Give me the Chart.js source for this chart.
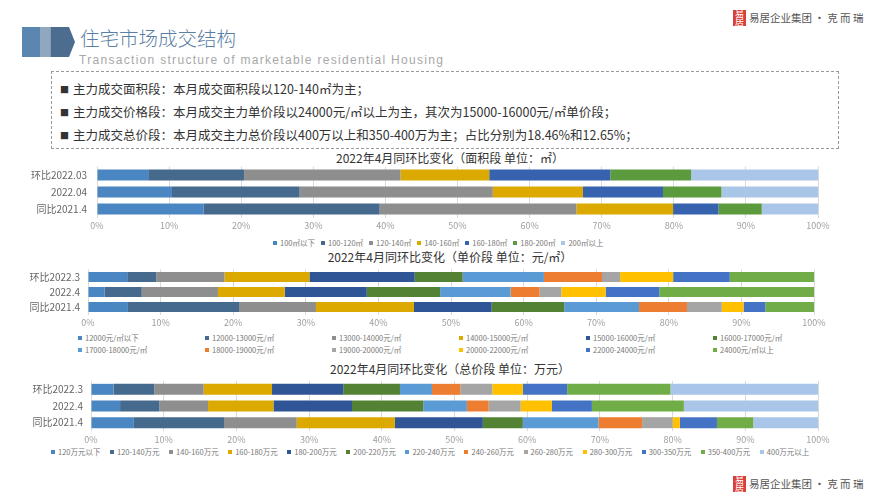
<!DOCTYPE html>
<html>
<head>
<meta charset="utf-8">
<script src="https://cdn.jsdelivr.net/npm/chart.js@4.4.1/dist/chart.umd.min.js"></script>
<style>
  body { margin: 0; background: #fff; }
  #page { position: relative; width: 894px; height: 502px; overflow: hidden; background: #fff; font-family: "Noto Sans CJK SC", sans-serif; }
  .abs { position: absolute; }
  canvas { position: absolute; left: 0; }
  .title { position: absolute; left: 0; width: 900px; text-align: center; font-size: 12px; color: #333; line-height: 14px; }
  .logo { position: absolute; left: 733px; width: 140px; height: 18px; }
  .logo .seal { position: absolute; left: 0; top: 0; width: 13px; height: 16px; background: #d8413a; color: #fff; font-size: 9px; line-height: 8px; text-align: center; }
  .logo .txt { position: absolute; left: 16px; top: 1px; font-size: 10.5px; color: #555; white-space: nowrap; line-height: 14px; }
  .notes { position: absolute; left: 51px; top: 71px; width: 786px; height: 76px; border: 1px dashed #9a9a9a; }
  .notes div { position: absolute; left: 8px; font-size: 12.5px; color: #333; white-space: nowrap; line-height: 16px; }
  .notes span { font-size: 9px; margin-right: 4px; vertical-align: 1px; }
  .lgrow { position: absolute; display: flex; white-space: nowrap; }
  .lg { font-size: 7.5px; color: #777; white-space: nowrap; line-height: 10px; }
  .lgrow .lg { position: static; }
  #unitLegend .lg { position: absolute; }
  .lg i { display: inline-block; width: 4px; height: 4px; margin-right: 3px; vertical-align: 1px; }
</style>
</head>
<body>
<div id="page">
  <svg class="abs" style="left:0;top:0" width="90" height="70">
    <rect x="22" y="27" width="18" height="30" fill="#5b86b0"/>
    <rect x="40" y="27" width="10.5" height="30" fill="#8fa8c0"/>
    <polygon points="50.5,27 69,27 75,42 69,57 50.5,57" fill="#4c6d90"/>
  </svg>
  <div class="abs" style="left:80px;top:26px;font-size:19.5px;color:#5a7ea4;line-height:24px;font-weight:300;">住宅市场成交结构</div>
  <div class="abs" style="left:79px;top:53px;font-family:'Liberation Sans',sans-serif;font-size:12px;letter-spacing:1.3px;color:#a8a8a8;line-height:14px;">Transaction structure of marketable residential Housing</div>

  <div class="logo" style="top:10px;"><div class="seal">易<br>居</div><div class="txt">易居企业集团 · 克 而 瑞</div></div>
  <div class="logo" style="top:476px;"><div class="seal">易<br>居</div><div class="txt">易居企业集团 · 克 而 瑞</div></div>

  <div class="notes">
    <div style="top:9px;"><span>■</span>主力成交面积段：本月成交面积段以120-140㎡为主；</div>
    <div style="top:32px;"><span>■</span>主力成交价格段：本月成交主力单价段以24000元/㎡以上为主，其次为15000-16000元/㎡单价段；</div>
    <div style="top:55px;"><span>■</span>主力成交总价段：本月成交主力总价段以400万以上和350-400万为主；占比分别为18.46%和12.65%；</div>
  </div>

  <div class="title" style="top:151px;">2022年4月同环比变化（面积段 单位：㎡）</div>
  <canvas id="areaChart" width="894" height="72" style="top:160px;"></canvas>
  <div id="areaLegend" class="lgrow" style="left:273px;top:238px;gap:6px;"></div>

  <div class="title" style="top:250px;">2022年4月同环比变化（单价段 单位：元/㎡）</div>
  <canvas id="unitChart" width="894" height="66" style="top:262px;"></canvas>
  <div id="unitLegend"></div>

  <div class="title" style="top:362px;">2022年4月同环比变化（总价段 单位：万元）</div>
  <canvas id="totalChart" width="894" height="72" style="top:374px;"></canvas>
  <div id="totalLegend" class="lgrow" style="left:51px;top:447px;gap:9.5px;"></div>
</div>

<script>
// rows (top to bottom)
const areaRows = ["环比2022.03", "2022.04", "同比2021.4"];
const priceRows = ["环比2022.3", "2022.4", "同比2021.4"];

// area bands, shares in % per row
const areaBands = ["100㎡以下", "100-120㎡", "120-140㎡", "140-160㎡", "160-180㎡", "180-200㎡", "200㎡以上"];
const areaMar22 = [7.1, 13.3, 21.7, 12.3, 16.8, 11.2, 17.6];
const areaApr22 = [10.4, 17.7, 26.8, 12.5, 11.1, 8.1, 13.4];
const areaApr21 = [14.8, 24.4, 27.3, 13.4, 6.3, 6.0, 7.8];
const areaColors = ["#4a87c2", "#46698e", "#8e8e8e", "#dca900", "#3763ae", "#5b9a3d", "#a9c5e8"];

// unit price bands
const unitBands = ["12000元/㎡以下", "12000-13000元/㎡", "13000-14000元/㎡", "14000-15000元/㎡", "15000-16000元/㎡", "16000-17000元/㎡",
  "17000-18000元/㎡", "18000-19000元/㎡", "19000-20000元/㎡", "20000-22000元/㎡", "22000-24000元/㎡", "24000元/㎡以上"];
const unitMar22 = [5.4, 4.0, 9.4, 11.7, 14.5, 6.6, 11.2, 8.0, 2.5, 7.3, 7.8, 11.6];
const unitApr22 = [2.3, 5.1, 10.5, 9.2, 11.3, 10.1, 9.7, 4.0, 3.0, 6.1, 7.4, 21.3];
const unitApr21 = [5.5, 15.3, 10.6, 13.5, 10.7, 10.0, 10.3, 6.6, 4.8, 3.0, 3.0, 6.7];
const unitColors = ["#4a87c2", "#46698e", "#8e8e8e", "#dca900", "#2f5597", "#548235",
  "#5b9bd5", "#ed7d31", "#a5a5a5", "#ffc000", "#4472c4", "#70ad47"];

// total price bands
const totalBands = ["120万元以下", "120-140万元", "140-160万元", "160-180万元", "180-200万元", "200-220万元", "220-240万元",
  "240-260万元", "260-280万元", "280-300万元", "300-350万元", "350-400万元", "400万元以上"];
const totalMar22 = [3.1, 5.6, 6.8, 9.4, 9.8, 7.8, 4.4, 3.9, 4.4, 4.2, 6.1, 14.2, 20.3];
const totalApr22 = [4.0, 5.4, 6.7, 9.0, 10.8, 9.8, 6.0, 3.0, 4.4, 4.3, 5.5, 12.65, 18.46];
const totalApr21 = [5.9, 12.4, 10.0, 13.5, 12.1, 5.5, 10.4, 6.0, 4.2, 1.0, 5.1, 5.0, 8.9];
const totalColors = ["#4a87c2", "#46698e", "#8e8e8e", "#dca900", "#2f5597", "#548235", "#5b9bd5",
  "#ed7d31", "#a5a5a5", "#ffc000", "#4472c4", "#70ad47", "#a9c5e8"];

const ticksPct = [0, 10, 20, 30, 40, 50, 60, 70, 80, 90, 100];
const FONT = "'Noto Sans CJK SC', sans-serif";

function makeChart(id, rows, bands, series, colors, cfg) {
    const datasets = bands.map((band, i) => ({
        label: band,
        data: series.map(s => s[i]),
        backgroundColor: colors[i],
        borderWidth: 0,
        barPercentage: 0.66,
        categoryPercentage: 1
    }));
    return new Chart(document.getElementById(id).getContext("2d"), {
        type: "bar",
        data: { labels: rows, datasets },
        options: {
            indexAxis: "y",
            responsive: false,
            animation: false,
            layout: { padding: cfg.padding },
            plugins: {
                tooltip: { enabled: false },
                legend: { display: false }
            },
            scales: {
                x: {
                    stacked: true,
                    min: 0,
                    max: 100,
                    afterBuildTicks: s => { s.ticks = ticksPct.map(v => ({ value: v })); },
                    ticks: { callback: v => v + "%", color: "#a0a0a0", padding: 3, font: { family: FONT, size: 9 } },
                    grid: { color: "#d9d9d9", drawTicks: false },
                    border: { display: false },
                    afterFit: s => { s.height = cfg.xh; s.paddingLeft = 0; s.paddingRight = 0; }
                },
                y: {
                    stacked: true,
                    ticks: { color: "#666", padding: cfg.yPad, font: { family: FONT, size: 10 } },
                    grid: { display: false, drawTicks: false },
                    border: { display: false },
                    afterFit: s => { s.width = cfg.yw; s.paddingTop = 0; s.paddingBottom = 0; }
                }
            }
        }
    });
}

// legend items come from the chart's own label generator
function legendItems(chart, boxId, place) {
    const box = document.getElementById(boxId);
    Chart.defaults.plugins.legend.labels.generateLabels(chart).forEach((item, i) => {
        const el = document.createElement("div");
        el.className = "lg";
        el.innerHTML = '<i style="background:' + item.fillStyle + '"></i>' + item.text;
        if (place) {
            place(el, i);
        }
        box.appendChild(el);
    });
}

const areaChart = makeChart("areaChart", areaRows, areaBands, [areaMar22, areaApr22, areaApr21], areaColors, {
    padding: { left: 0, right: 76, top: 6.5, bottom: 0.5 }, yw: 97, yPad: 10, xh: 14
});

const unitChart = makeChart("unitChart", priceRows, unitBands, [unitMar22, unitApr22, unitApr21], unitColors, {
    padding: { left: 0, right: 80, top: 7.5, bottom: 0.5 }, yw: 88, yPad: 8, xh: 13
});

const totalChart = makeChart("totalChart", priceRows, totalBands, [totalMar22, totalApr22, totalApr21], totalColors, {
    padding: { left: 0, right: 76, top: 7, bottom: 1 }, yw: 91, yPad: 8, xh: 14
});

legendItems(areaChart, "areaLegend");
legendItems(totalChart, "totalLegend");
// two rows, six columns
legendItems(unitChart, "unitLegend", (el, i) => {
    el.style.left = (78 + (i % 6) * 127) + "px";
    el.style.top = (333 + Math.floor(i / 6) * 12) + "px";
});
</script>
</body>
</html>
